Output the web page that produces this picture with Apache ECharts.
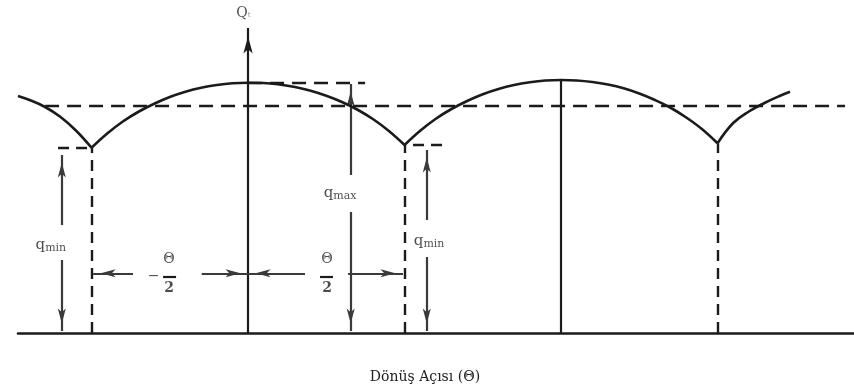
<!DOCTYPE html>
<html>
<head>
<meta charset="utf-8">
<script src="https://cdn.jsdelivr.net/npm/echarts@6/dist/echarts.min.js"></script>
<style>
  html, body { margin: 0; padding: 0; background: #ffffff; }
  #chart { width: 854px; height: 392px; }
</style>
</head>
<body>
<div id="chart"></div>
<script>
// Rotation angle on x, in units of Θ/2 (0 = Q axis, ±1 = first delivery minima).
// Delivered flow on y, in percent of q_max.
const cuspLeft  = [[-1.47, 94.8], [-1.4, 93.3], [-1.3, 90.5], [-1.2, 86.5], [-1.1, 81.0], [-1.0, 74.1]];
const arcFirst  = [[-1.0, 74.1], [-0.9, 79.8], [-0.8, 84.6], [-0.7, 88.5], [-0.6, 91.7], [-0.5, 94.4],
                   [-0.4, 96.5], [-0.3, 98.1], [-0.2, 99.2], [-0.1, 99.9], [0, 100.1],
                   [0.1, 100.0], [0.2, 99.4], [0.3, 98.4], [0.4, 96.9], [0.5, 94.9],
                   [0.6, 92.4], [0.7, 89.3], [0.8, 85.5], [0.9, 80.8], [1.0, 75.2]];
const arcSecond = [[1.0, 75.2], [1.1, 80.9], [1.2, 85.7], [1.3, 89.6], [1.4, 92.8], [1.5, 95.5],
                   [1.6, 97.6], [1.7, 99.2], [1.8, 100.3], [1.9, 101.0], [2.0, 101.2],
                   [2.1, 101.0], [2.2, 100.4], [2.3, 99.4], [2.4, 97.9], [2.5, 95.8],
                   [2.6, 93.2], [2.7, 90.1], [2.8, 86.2], [2.9, 81.6], [3.0, 75.9]];
const cuspRight = [[3.0, 75.9], [3.1, 84.0], [3.2, 88.6], [3.3, 92.0], [3.4, 94.9], [3.463, 96.5]];

const minAngles  = [-1, 1, 3];
const minFlows   = [74.1, 75.2, 75.9];
const peakAngles = [0, 2];
const peakFlows  = [100.1, 101.2];
const meanFlow   = 90.8;

const axisTitle  = 'Dönüş Açısı (Θ)';
const flowTitle  = 'Q';
const flowSub    = 't';
const minName    = 'min';
const maxName    = 'max';
const halfAngle  = ['Θ', '2'];

const serif = 'DejaVu Serif';
const ink = '#1b1b1b';
const arrowInk = '#3a3a3a';

function seg(a, b) { return [{ coord: a }, { coord: b }]; }
function arrow(from, to) {
  return [
    { coord: from, symbol: 'none' },
    { coord: to, symbol: 'arrow', symbolSize: [6, 15], symbolOffset: [0, 7.5] }
  ];
}
function curve(name, data) {
  return {
    name: name, type: 'line', data: data, smooth: 0.4, showSymbol: false,
    silent: true, z: 5,
    lineStyle: { color: ink, width: 2.6 }
  };
}
function note(coord, text, rich) {
  return {
    value: coord,
    label: { show: true, position: 'inside', formatter: text, rich: rich,
             fontFamily: serif, color: '#1e1e1e' }
  };
}

const qRich = {
  q: { fontFamily: serif, fontSize: 15, color: '#1e1e1e' },
  s: { fontFamily: serif, fontSize: 11, color: '#1e1e1e', padding: [6, 0, 0, 0] }
};
const fracRich = {
  n: { fontFamily: serif, fontSize: 14, color: '#1e1e1e' },
  d: { fontFamily: serif, fontSize: 14, fontWeight: 'bold', color: '#1e1e1e' }
};

const notes = [
  note([-0.029, 128], '{q|' + flowTitle + '}{s|' + flowSub + '}', {
    q: { fontFamily: serif, fontSize: 14, color: '#1e1e1e' },
    s: { fontFamily: serif, fontSize: 7, color: '#777', padding: [4, 0, 0, 0] }
  }),
  note([-1.26, 35.2], '{q|q}{s|' + minName + '}', qRich),
  note([1.157, 36.8], '{q|q}{s|' + minName + '}', qRich),
  note([0.588, 56.0], '{q|q}{s|' + maxName + '}', qRich),
  note([-0.604, 22.5], '{n|−}', fracRich),
  note([-0.505, 29.6], '{n|' + halfAngle[0] + '}', fracRich),
  note([-0.505, 18.0], '{d|' + halfAngle[1] + '}', fracRich),
  note([0.505, 29.6], '{n|' + halfAngle[0] + '}', fracRich),
  note([0.505, 18.0], '{d|' + halfAngle[1] + '}', fracRich)
];

const chart = echarts.init(document.getElementById('chart'), null, { renderer: 'canvas' });

chart.setOption({
  animation: false,
  backgroundColor: '#ffffff',
  grid: { left: 18, right: 0, top: 8, bottom: 59 },
  xAxis: {
    type: 'value', min: -1.47, max: 3.872,
    axisLine: { lineStyle: { color: ink, width: 2.6 } },
    axisTick: { show: false }, axisLabel: { show: false }, splitLine: { show: false },
    name: axisTitle, nameLocation: 'middle', nameGap: 37,
    nameTextStyle: { fontFamily: serif, fontSize: 14, color: '#222', padding: [0, 22, 0, 0] }
  },
  yAxis: { type: 'value', min: 0, max: 130, show: false },
  series: [
    curve('cuspLeft', cuspLeft),
    curve('arcFirst', arcFirst),
    curve('arcSecond', arcSecond),
    curve('cuspRight', cuspRight),
    {
      // vertical dashed drop lines at the minima and the q_min ticks
      name: 'dropLines', type: 'line', data: [], silent: true, z: 4,
      markLine: {
        silent: true, animation: false, symbol: ['none', 'none'], label: { show: false },
        lineStyle: { color: ink, width: 2.4, type: [11, 7] },
        data: [
          ...minAngles.map((a, i) => seg([a, 0], [a, minFlows[i]])),
          seg([-1.214, minFlows[0]], [minAngles[0], minFlows[0]]),
          seg([1.054, minFlows[1]], [1.278, minFlows[1]])
        ]
      }
    },
    {
      // horizontal dashed lines: mean flow and q_max reference
      name: 'levels', type: 'line', data: [], silent: true, z: 4,
      markLine: {
        silent: true, animation: false, symbol: ['none', 'none'], label: { show: false },
        lineStyle: { color: ink, width: 2.4, type: [14, 8] },
        data: [
          seg([-1.297, meanFlow], [3.815, meanFlow]),
          seg([peakAngles[0], peakFlows[0]], [0.748, peakFlows[0]])
        ]
      }
    },
    {
      // solid lines: second peak and fraction bars
      name: 'solid', type: 'line', data: [], silent: true, z: 4,
      markLine: {
        silent: true, animation: false, symbol: ['none', 'none'], label: { show: false },
        lineStyle: { color: ink, width: 2.2, type: 'solid' },
        data: [
          seg([peakAngles[1], 0], [peakAngles[1], peakFlows[1]]),
          seg([-0.543, 22.5], [-0.46, 22.5]),
          seg([0.46, 22.5], [0.543, 22.5])
        ]
      }
    },
    {
      // Q axis with arrow
      name: 'flowAxis', type: 'line', data: [], silent: true, z: 4,
      markLine: {
        silent: true, animation: false, label: { show: false },
        lineStyle: { color: ink, width: 2.2, type: 'solid' },
        data: [[
          { coord: [0, 0], symbol: 'none' },
          { coord: [0, 122], symbol: 'arrow', symbolSize: [7, 17], symbolOffset: [0, 8.5] }
        ]]
      }
    },
    {
      // dimension arrows
      name: 'dimensions', type: 'line', data: [], silent: true, z: 4,
      markLine: {
        silent: true, animation: false, label: { show: false },
        lineStyle: { color: arrowInk, width: 2.2, type: 'solid' },
        data: [
          arrow([-1.19, 43.2], [-1.19, 71.2]),
          arrow([-1.19, 29.2], [-1.19, 0.8]),
          arrow([1.142, 45.2], [1.142, 73.2]),
          arrow([1.142, 30.4], [1.142, 0.8]),
          arrow([0.656, 63.2], [0.656, 99.6]),
          arrow([0.656, 48.4], [0.656, 0.8]),
          arrow([-0.735, 23.9], [-0.99, 23.9]),
          arrow([-0.296, 23.9], [0, 23.9]),
          arrow([0.364, 23.9], [0, 23.9]),
          arrow([0.639, 23.9], [0.99, 23.9])
        ]
      }
    },
    {
      name: 'notes', type: 'scatter', symbolSize: 0, silent: true, z: 6, clip: false,
      data: notes
    }
  ]
});
</script>
</body>
</html>
